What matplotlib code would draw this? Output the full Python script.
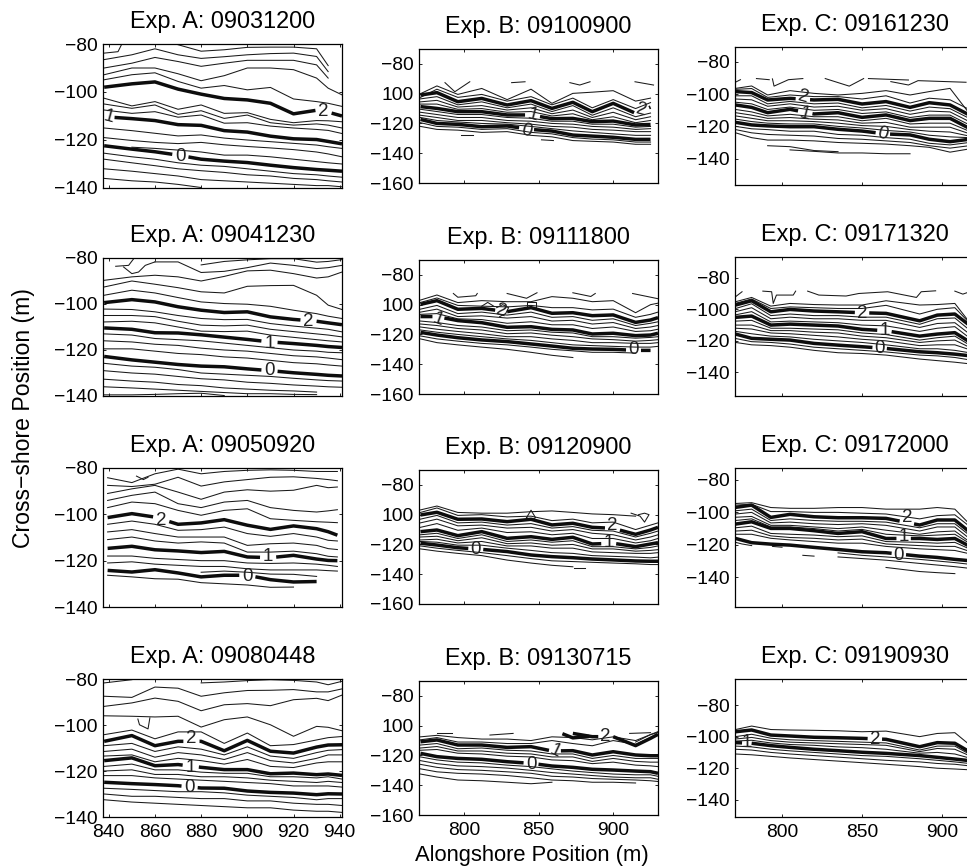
import numpy as np
import matplotlib
matplotlib.use("Agg")
import matplotlib.pyplot as plt

plt.rcParams['font.family'] = ['Liberation Sans', 'DejaVu Sans']
n = np.nan
W, H = 967, 868

# ---------- Exp. A ----------
A_x = [838, 850, 860, 870, 880, 890, 900, 910, 920, 930, 935, 941]
A3_x = [839.5, 850, 860, 870, 880, 890, 900, 910, 920, 930, 935, 939]

A1_thick = [
    [-98, -96.6, -95.8, -98.8, -100.9, -102.7, -103.3, -104.7, -109.1, -107.6, -108.4, -110],
    [-110.3, -111.1, -111.9, -113.6, -113.9, -116.1, -116.7, -118.4, -119.5, -119.8, -120.6, -121.6],
    [-122.4, -123.8, -124.9, -126.3, -128, -128.8, -129.4, -130.5, -131.5, -132.3, -132.6, -133],
]
A1_thin = [
    [n, n, n, -80.3, -83, -82.4, -81.4, -81.3, -81.3, -82, -89, n],
    [-86.5, -84.5, -82, -84.5, -86, -85.3, -84.5, -84, -83.8, -85.2, -91.5, n],
    [-90, -88, -85.6, -87.3, -89.3, -88, -86.8, -86.8, -86.8, -88.7, -94.2, n],
    [-92.8, -90, -90, -92.4, -95.3, -93.2, -90, -90, -90.7, -94.2, -98.4, -101.2],
    [-94.9, -92.8, -92, -95.6, -98.4, -97.3, -99.1, -98.1, -102.9, -104, -104.7, -106],
    [-102.6, -105.8, -104, -107.2, -105.4, -108.9, -108.6, -111.4, -112.8, -111.9, -112, -112.4],
    [-105, -106.8, -105.4, -109.3, -107.8, -111, -109.6, -112.8, -113.8, -113.3, -113.8, -115],
    [-107.5, -108.9, -108.2, -110.5, -109.6, -113, -112.8, -114.2, -115, -115.6, -116, -117.3],
    [-115, -116.1, -117.2, -118.3, -117.9, -119.2, -120, -120.7, -121.4, -122.1, -122.8, -123.5],
    [-119, -120.2, -121, -121.5, -121, -122, -122.7, -123.3, -124, -125, -125.8, -127],
    [n, -123, -123.5, -124.2, -125, -126.3, -126.3, -127, -128, -129, -129.5, -130],
    [-125.5, -127, -128, -129.5, -130.5, -131, -132, -133, -134, -134.5, -135, -135.5],
    [-128, -129.5, -130.7, -132, -132.8, -133.5, -134.5, -135, -136, -136.5, -137, -137.5],
    [-132, -133, -134, -135, -136.5, -137, -137.5, -138, -138.5, -139, -139, -139.5],
    [-136, -137, -137.5, -138.5, -139.8, n, n, n, n, n, n, n],
]
A1_extra = [([838, 844, 845.5], [-83.8, -83.2, -80.3])]
A1_labels = [('2', 933, -108.2, 0, 3.5), ('1', 840, -110.3, -15, 2.5), ('0', 871, -127, 0, 3.5)]

A2_thick = [
    [-99.4, -98.1, -99.1, -101.2, -102.7, -103.7, -103.4, -105.6, -106.7, -107.5, -108.2, -109],
    [-110.4, -111, -112.5, -112.6, -113.4, -114.4, -115.4, -116.5, -117.2, -118, -118.5, -118.9],
    [-122.8, -124.3, -125.3, -126.3, -127, -127.3, -128.2, -129, -129.9, -130.6, -131, -131.3],
]
A2_thin = [
    [n, n, n, n, -83, -81.5, -80.8, -80.3, -80.3, -81.8, -81.5, -80.7],
    [n, n, -81.7, -81.7, -86.3, -85.8, -84.2, -82.2, -83.2, -84.6, -84.2, -83.2],
    [-89.7, -88.2, -87.5, -88.2, -90, -88, -85.6, -85.3, -86.8, -88.7, -88.2, -86.1],
    [-92.6, -90, -91.4, -92.9, -94.7, -95.2, -92.3, -92, -91.9, -96.2, -100.5, -102.4],
    [-96.2, -94, -95.2, -97.2, -99.1, -99.8, -100.1, -101, -102.7, -104.2, -105.3, -106.3],
    [-102.2, -102.4, -103.4, -105, -106.3, -106.8, -106.7, -108.5, -109.6, -110.5, -111, -112.1],
    [-105, -105, -105.5, -107.5, -109.2, -109.5, -109.2, -111, -112, -113, -113.5, -114.3],
    [-107.8, -107.5, -108.2, -110, -111.8, -112, -111.8, -113.5, -114.5, -115.5, -116, -116.5],
    [-113, -113.5, -115, -115.5, -116, -117, -118, -119, -120, -120.5, -121, -121.2],
    [-116, -116.5, -117.5, -118, -119.2, -120, -120.5, -121.5, -122.5, -123, -123.5, -124.2],
    [-119.5, -119.5, -120.5, -121.5, -122, -123, -123.5, -124.5, -125.5, -126, -126.5, -127],
    [-125.8, -127, -127.5, -128.5, -130, -130.5, -131, -131.5, -132.3, -133, -133.3, -133.5],
    [-129, -130, -130.5, -131.5, -132.5, -133, -134, -134.5, -135.2, -135.7, -136, -136.2],
    [-132.7, -133.5, -134, -135, -135.5, -136.5, -137, -137.5, -137.8, -138.3, n, n],
    [-136, -136.5, -137, -137.5, -138, -138.5, -139, -139, -139.3, -139.4, n, n],
    [-139.5, -139.5, -139.3, -139, -138.8, -139.8, n, n, n, n, n, n],
]
A2_extra = [
    ([843, 848.6, 850.8], [-83.6, -83.2, -80.3]),
    ([846.4, 850, 852.9, 855.8, 860], [-83.9, -86.8, -86.1, -83.2, -81.7]),
]
A2_labels = [('2', 926.5, -107.5, 0, 3.5), ('1', 909.6, -117.1, 0, 3.5), ('0', 909.6, -129.1, 0, 3.5)]

A3_thick = [
    [-101.4, -99.7, -101.2, -104.3, -103.7, -102.3, -104.7, -106.5, -105, -106.2, -107.5, -109],
    [-114.7, -113.8, -115.3, -115.8, -116.5, -116, -118.4, -118.7, -117.7, -119.3, -119.9, -120],
    [-124.2, -124.9, -123.9, -125.3, -127, -126.3, -126.3, -128.2, -129.2, -129, n, n],
]
A3_thin = [
    [-84.2, -86.3, -82.5, -80.5, -82.5, -81.5, -81, -80.8, -81, -81.5, -81.5, -81.5],
    [-87.5, -88, -87, -84, -87.8, -86, -85, -84, -83.8, -84.5, -85, -85.5],
    [-91, -89, -87.5, -90.4, -93.5, -90.4, -89.4, -90, -89.6, -87.5, -88.5, -88.2],
    [-94, -91.8, -90.4, -95.4, -97.1, -94.7, -94, -97.1, -98.3, -99, -98.5, -98],
    [-97.1, -94.7, -95.4, -98.3, -100.4, -98.3, -97.6, -101.9, -102.6, -103.2, -103.4, -103.6],
    [-104.3, -102.9, -104.3, -106.9, -106.6, -105.5, -108.3, -109.5, -108.3, -109.8, -111.2, -111.5],
    [-107.6, -106.6, -108.3, -109.8, -109.8, -109.8, -113.4, -112.7, -112.4, -113.4, -114.8, -115.2],
    [-110.9, -109.8, -111.5, -112.4, -111.9, -112.4, -116.3, -116.3, -115.9, -117, -118.1, -118.4],
    [-118, -118, -119, -119.5, -120, -120, -121, -121.2, -121, -121.5, -122, -122.5],
    [-121, -120.5, -121.5, -122, -122.5, -122.5, -123.5, -124, -124, -124, -124.3, -124.5],
    [-126.3, -127, -127.8, -128, -129.5, -130, -130.5, -131.5, -131.4, n, n, n],
    [n, n, n, n, -125, -124.5, -125, -125.8, -125.9, -126.8, n, n],
]
A3_extra = [([852, 855, 857], [-83.5, -85, -84])]
A3_labels = [('2', 862.7, -102.6, 0, 3.5), ('1', 909, -118.4, 0, 3.5), ('0', 900, -126.8, 0, 3.5)]

A4_thick = [
    [-107.1, -104.6, -109, -107.1, -107.1, -111.2, -106.7, -111.4, -112.2, -109.6, -108.7, -108.6],
    [-115.5, -114.3, -117.7, -117.2, -118.4, -119.4, -119.4, -121.2, -120.9, -121.6, -121.3, -121.9],
    [-124.9, -125.5, -125.9, -126.4, -127.4, -127.5, -128.7, -129.3, -129.6, -130.3, -129.9, -130],
]
A4_thin = [
    [-81.7, -80.3, n, n, -81.7, -81.3, -80.7, -80.3, -80.6, -81.3, -82.5, -81],
    [-87.5, -88, -83.5, -84, -87.5, -86, -85, -84.9, -84.6, -85.6, -85.6, -84.3],
    [-91.9, -90.4, -88.3, -89.7, -93.8, -91.2, -90.7, -91.6, -89, -88.4, -89.4, -87],
    [-96, -96.2, -96.5, -96.2, -100.9, -97.7, -96.5, -99.9, -104.9, -100.6, -101, -102.5],
    [-104.2, -102.2, -106, -103, -103, -108, -103.5, -109, -108.5, -106.5, -105.5, -105],
    [-109, -108, -111.5, -109.5, -110.5, -113, -109.5, -113.5, -114.5, -112, -111, -110.7],
    [-111.5, -110.5, -114, -112, -113, -115, -112, -115.5, -116.5, -114.5, -113, -113],
    [-113.5, -113, -116, -114.5, -115.5, -117, -115, -118, -118.5, -116.5, -116, -116],
    [-118, -117, -119.5, -119.5, -120.5, -121, -121, -122.5, -122.5, -123, -122.5, -123.5],
    [-120, -119.5, -121.5, -121.5, -122.5, -122.5, -123, -124, -124.5, -125, -124.5, -125],
    [-122, -122, -123, -123.5, -124, -124.5, -125, -125.5, -126.5, -126.5, -126.5, -127],
    [-127.5, -128, -128.5, -129, -129, -129.5, -130.5, -131, -131.5, -132.5, -132, -132],
    [-130, -131, -131, -131.5, -132, -132, -133, -133, -134, -134.5, -134.5, -135],
    [-132.5, -133.5, -134, -134.5, -135, -135.5, -136, -136, -137, -137.5, -137.5, -138],
]
A4_extra = [([852.6, 853.3, 857, 857.8], [-97.4, -99.9, -101.7, -96.9])]
A4_labels = [('2', 875.8, -105.7, 0, 3.5), ('1', 875.5, -118.4, 0, 3.5), ('0', 875, -127, 0, 3.5)]

# ---------- Exp. B ----------
B_x = [771, 782, 796, 812, 829, 845, 859, 873, 886, 900, 915, 925, 930]

B1_thick = [
    [-100.9, -99.3, -105.4, -103.2, -107.6, -104.7, -109.9, -105.8, -112.1, -106.5, -113.2, -109, n],
    [-108.7, -109.9, -112.1, -112.1, -114.3, -114.3, -116.8, -116.6, -118.8, -118.4, -121, -120.7, n],
    [-117.3, -120, -120.6, -122.2, -121.7, -124, -125.1, -127.8, -128.5, -129.3, -130.7, -130.7, n],
]
B1_thin = [
    [-100, -94.8, -100.5, -96.5, -104, -97, -106.5, -99.8, -99, -98, -105, -103, n],
    [-102.5, -97, -102.5, -100.5, -105, -102, -107.5, -103, -109.5, -104, -110, -106, n],
    [-103.5, -102, -107.5, -105.5, -109.5, -107, -112, -108, -114.5, -109.5, -115.5, -113, n],
    [-105.5, -104.5, -109, -108, -111, -109.5, -113.5, -111, -116, -112.5, -117.5, -115.5, n],
    [-107, -107, -110.5, -110, -112.5, -112, -115, -113.5, -117.5, -115.5, -119.5, -118, n],
    [-110.5, -112, -114, -114, -116, -116.5, -118.5, -118.5, -120.5, -120.5, -122.5, -122, n],
    [-112.5, -114, -116, -116, -118, -118.5, -120, -120.5, -122, -122.5, -124, -123.5, n],
    [-114.5, -116, -118, -118, -119.5, -120.5, -122, -122.5, -124, -124.5, -125.5, -125.5, n],
    [-116, -118, -119, -120, -120.5, -122, -123.5, -125, -126, -127, -128, -128, n],
    [-119.5, -122, -122.5, -124, -123.5, -126, -127, -129.5, -130.5, -131, -132.5, -132.5, n],
    [-122, -124, -124.5, -126, -125.5, -128, -129, -131.5, -132, -132.5, -134, -134, n],
]
B1_extra = [
    ([787.4, 794, 804], [-92.6, -98.7, -92]),
    ([832, 841], [-92.6, -92]),
    ([871, 877.6, 884.5], [-92.6, -94.2, -92]),
    ([914.6, 927], [-92, -94.2]),
    ([798, 806], [-127.5, -127.5]),
    ([852, 860], [-131, -131.5]),
]
B1_labels = [('2', 919, -110.9, -15, 5), ('1', 846, -114.3, -15, 5), ('0', 842, -125.1, -15, 5)]

B2_thick = [
    [-99.8, -97.3, -103.1, -102.5, -104.7, -102, -105.8, -105.4, -107.4, -106.9, -111.9, -110.3, -108.7],
    [-108, -108, -110.7, -112.1, -115.2, -114.8, -116.6, -117, -119.7, -119.2, -120.8, -120.4, -119.2],
    [-118.6, -120.4, -122.2, -123.7, -124.8, -126.4, -127.8, -129.3, -129.8, -130, -130.7, -130.7, n],
]
B2_thin = [
    [-96.9, -93.5, -98.6, -97.3, -98, -98, -94.6, -95.7, -98, -97.3, -105.4, -100, -99],
    [-98.5, -95.5, -100.5, -101, -101.5, -100.5, -102, -102, -103.5, -103, -108.5, -106.5, -105],
    [-103, -100.5, -106, -105, -107, -105, -108.5, -108, -110.5, -109.5, -114, -112.5, -111.5],
    [-105, -103, -108, -107.5, -109, -108, -111, -110.5, -113, -112, -116, -115, -114],
    [-106.5, -106, -109.5, -110, -112.5, -111.5, -113.5, -113.5, -116, -115, -118, -117.5, -116.5],
    [-111, -112, -114, -115, -117.5, -117, -118.5, -119, -121.5, -121.5, -122.5, -122, -121.5],
    [-113, -114, -116, -117, -119.5, -119, -120.5, -121.5, -123, -123.5, -124.5, -124, -123.5],
    [-115, -116.5, -118, -119.5, -121.5, -121.5, -123, -124, -125.5, -125.5, -126, -126, -125.5],
    [-117, -118.5, -120, -121.5, -123, -124, -125.5, -127, -127.5, -128, -128.5, -128.5, -128],
    [-121, -123, -124.5, -126, -127, -128.5, -130, -131, -132, -132, -132.5, n, n],
    [-123, -125.5, -127, -128.5, -130, -132, -134, -135.5, n, n, n, n, n],
]
B2_extra = [
    ([793, 796, 808, 809], [-92.5, -95, -94, -92.5]),
    ([829, 842, 849], [-92.5, -95.7, -92]),
    ([873, 885, 888], [-92, -94.5, -92.5]),
    ([913, 930], [-92.5, -96]),
    ([812, 816, 820], [-101, -98.5, -101]),
    ([822, 826, 830, 828, 824], [-102, -100, -102, -106, -108]),
    ([842, 842, 848, 848, 842], [-102, -98, -98, -102, -102]),
]
B2_labels = [('2', 825, -104, -15, 4), ('1', 783, -110.3, -20, 4), ('0', 913.6, -130.4, 0, 5)]

B3_thick = [
    [-100.2, -98.4, -103.1, -102.9, -104.7, -103.1, -106.9, -105.8, -108.5, -109.2, -113.2, -110.3, -108.5],
    [-111.4, -110.3, -114.1, -111.4, -115.9, -114.8, -116.6, -115.2, -119.7, -119.2, -121.5, -119.7, -118.8],
    [-119.2, -120.4, -122.2, -123.3, -124.8, -127.1, -128.2, -128.9, -129.8, -130.4, -131.1, -131.3, -131.3],
]
B3_thin = [
    [-96.8, -94.2, -98.5, -99, -99, -98, -97.5, -98.5, -99.5, -100, -101, n, n],
    [-98.5, -95.5, -100.5, -100, -101.5, -101, -104, -103, -105.5, -105, -110, -107, -105.5],
    [-103, -100.5, -105.5, -105, -107, -106, -109, -108, -110.5, -111, -115, -112.5, -111],
    [-105.5, -103, -107.5, -107, -109, -108.5, -111, -110, -112.5, -113.5, -117, -115, -113.5],
    [-108.5, -106, -110.5, -109, -112, -111.5, -113.5, -112.5, -116, -116, -119, -117.5, -116],
    [-113.5, -112.5, -116, -113.5, -118, -117, -118.5, -117.5, -121.5, -121.5, -123, -122, -121],
    [-115, -114.5, -117.5, -115.5, -119.5, -119, -120.5, -120, -123, -123, -124.5, -124, -123.5],
    [-117, -116.5, -119, -118, -121, -121, -122.5, -122.5, -125, -125.5, -126, -126, -125.5],
    [-118, -118.5, -120.5, -120.5, -122.5, -124, -125.5, -126, -127.5, -128, -128.5, -129, -128.5],
    [-121, -122.5, -124, -125.5, -127.5, -129.5, -131, -131.5, -132, -132.5, -133, -133.5, -133.5],
    [-123, -124.5, -126, -127.5, -130.5, -132.5, -134, -135, n, n, n, n, n],
]
B3_extra = [
    ([912, 918, 921, 924, 921, 917], [-99, -101, -105, -100, -99, -100]),
    ([842, 845, 848, 845, 842], [-102, -97, -102, -104, -102]),
    ([874, 881], [-135.5, -135.5]),
]
B3_labels = [('2', 899.5, -107, 0, 5), ('1', 897, -119, 0, 5), ('0', 808, -123.3, 0, 5)]

B4_thick = [
    [n, n, n, n, n, n, n, -105.2, -107.4, -107.4, -113.4, -108.5, -105.8],
    [-110.8, -109.6, -113, -113, -114.6, -114.1, -117, -116.8, -119.7, -117.5, -119.7, -120.2, -120.2],
    [-118.6, -120.8, -122, -122.6, -124.2, -125.3, -127.1, -128, -129.3, -129.8, -130.5, -130.9, -132],
]
B4_thin = [
    [-107.5, -106.5, -108, -109, -109, -110, -107.5, -108, -109.5, -107.5, -110, -106, -104.5],
    [-109.5, -108, -111, -111, -112, -112, -110, -112, -113.5, -110, -112.5, -108, -106.5],
    [-113, -112, -115.5, -115, -116.5, -117, -119, -119, -122, -120, -122, -122, -122],
    [-115, -114, -117, -117, -118.5, -119, -121, -121, -124, -122, -124, -124.5, -124.5],
    [-116.5, -116, -118.5, -119, -120.5, -121, -123, -123.5, -125.5, -124.5, -126.5, -127, -127.5],
    [-121, -123, -124.5, -125, -126.5, -127.5, -129, -130.5, -131.5, -132.5, -133, -133, -134],
    [-123.5, -125.5, -127, -127.5, -128.5, -130, -131.5, -132.5, -133.5, -134.5, -135, -135, -136],
    [-126, -128, -129.5, -130, -131, -132, -134, -134.5, -135.5, -136, -136.5, -137, -137.5],
    [-129, -131, -132, -132.5, -133.5, -135, -136.5, -137, -138, -138, -138.5, n, n],
    [-132.5, -134.5, -136.5, -137, -138, -139, -138, n, n, n, n, n, n],
]
B4_extra = [
    ([782, 792], [-105, -105]),
    ([817.5, 833], [-106.3, -105.2]),
    ([911, 925], [-105.2, -104.7]),
    ([915, 925, 930], [-111, -106, -104]),
]
B4_stub_x = [866, 873, 884]
B4_stub_y = [-105.4, -108.2, -107.2]
B4_labels = [('2', 895, -107, 0, 5), ('1', 861, -117, -25, 4), ('0', 845, -125.8, 0, 5)]

# ---------- Exp. C ----------
C1_x = [771, 781, 791, 805, 820, 835, 850, 865, 880, 892, 905, 917]
C_x = [771, 781, 793, 805, 820, 835, 850, 865, 886, 897, 908, 917]

C1_thick = [
    [-98.4, -99, -103.6, -102.6, -103.6, -103.2, -106.1, -104.6, -108.2, -105.3, -106.7, -112.9],
    [-106.7, -108.2, -111.5, -109.4, -112.3, -111.5, -114.4, -112.9, -116.4, -115, -115, -121.2],
    [-117.5, -119.1, -119.7, -120.2, -120.2, -121.8, -122.9, -124.7, -125.3, -128, -129.5, -128],
]
C1_thin = [
    [-96.4, -94.9, -100.5, -97.8, -99.5, -100.5, -99.5, -97.8, -100.5, -98.4, -96.4, -111.9],
    [-97, -96.5, -102, -100.5, -101.5, -101.5, -103, -101, -105.5, -102.5, -103.5, -109.5],
    [-101, -101, -106, -104.5, -106, -105.5, -108.5, -107, -110.5, -108, -109, -115],
    [-103, -103.5, -107.5, -106, -108, -107.5, -110, -109, -112.5, -110.5, -111, -117],
    [-105, -106, -109.5, -108, -110, -109.5, -112, -111, -114.5, -113, -113, -119],
    [-109.5, -111, -113.5, -112.5, -114, -114, -116.5, -115, -118.5, -118, -118, -123],
    [-111.5, -113, -115, -114.5, -115.5, -116, -118, -117.5, -120.5, -120.5, -120.5, -124.5],
    [-113.5, -115, -116.5, -116.5, -117, -118, -119.5, -120, -122, -123, -123.5, -126],
    [-115.5, -117, -118, -118.5, -118.5, -120, -121, -122.5, -123.5, -125.5, -126.5, -127],
    [-120, -121.5, -122, -123, -123, -125, -125.5, -127, -128, -130.5, -131.5, -130],
    [-122, -124, -125, -125.5, -126, -127.5, -128, -129, -130, -132, -133.5, -132],
    [-124, -127, -128.5, -128.5, -129, -130, -130.5, -131, -132, -133, -136, -134],
    [n, n, -132, -132.6, -135, -135.7, n, n, n, n, n, n],
    [n, n, n, -134.6, -135.5, -136.5, -136.5, -137, -137, n, n, n],
]
C1_extra = [
    ([771, 774], [-92.5, -91]),
    ([784, 792], [-90.3, -91]),
    ([794, 795, 804, 813], [-90.5, -95, -91, -90.3]),
    ([827, 842, 851], [-90.3, -95, -90.3]),
    ([854, 879], [-90.3, -91.2]),
    ([868, 879, 885, 915], [-92.2, -94.3, -91.6, -92.6]),
]
C1_labels = [('2', 813, -102, -15, 4.5), ('1', 814.5, -112, -15, 4.5), ('0', 863, -124.7, -15, 4.5)]

C2_thick = [
    [-97.3, -94.6, -101.6, -100.1, -101.1, -101.6, -102.2, -102.6, -107.3, -103.7, -103, -110],
    [-105.1, -104.3, -110, -109.4, -110, -110.6, -112.7, -113.6, -117, -115.7, -114.8, -120.5],
    [-115.7, -118.4, -119, -119.5, -121.6, -122.7, -123.7, -124.8, -126.9, -127.5, -128.4, -129.4],
]
C2_thin = [
    [-95.2, -92.5, -98, -96.3, -97, -97.3, -97.3, -94.6, -97.3, -97, -96.3, -108],
    [-96.2, -93.5, -99.5, -98.5, -99, -99.5, -99.5, -97.5, -103, -100, -99, -108.5],
    [-99.5, -96.5, -104, -103, -104, -104, -105, -105, -109.5, -106, -105.5, -113],
    [-101.5, -99, -106, -105, -106, -106, -107, -107, -111.5, -109, -108.5, -115.5],
    [-103.5, -101.5, -108, -107.5, -108, -108.5, -110, -110.5, -114, -112, -111, -118],
    [-107.5, -107, -112, -112, -112.5, -113, -115, -116, -119.5, -118, -117, -122.5],
    [-110, -110, -113.5, -113.5, -114.5, -115, -117, -118, -121, -120, -119.5, -124],
    [-112, -112.5, -115, -115.5, -116.5, -117.5, -119, -120, -123, -122.5, -122.5, -125.5],
    [-114, -115.5, -117, -117.5, -119, -120, -121, -122.5, -125, -125, -126, -127.5],
    [-118.5, -120.5, -121, -122, -124, -125, -126, -127, -129, -129.5, -130.5, -132],
    [-121, -122.5, -123, -124, -126, -127.5, -128, -129, -131.5, -132.5, -133.5, -134.5],
]
C2_extra = [
    ([771, 775], [-92, -88.9]),
    ([788, 793.5, 794.5, 796.5, 807, 808.5], [-88.5, -88.9, -96.3, -91, -91, -88.5]),
    ([816, 823, 840, 848, 866, 884, 887, 896], [-88.5, -91, -91.6, -90, -88.9, -92.5, -88.9, -88.3]),
    ([908, 913, 915.6], [-88.5, -90.4, -89.5]),
]
C2_labels = [('2', 850, -102.6, 0, 4.5), ('1', 864, -113.6, 0, 4.5), ('0', 861, -124.8, 0, 4.5)]

C3_thick = [
    [-96.9, -95.5, -103.1, -101.2, -102.7, -103.3, -103.3, -103.7, -107.8, -104.7, -104.7, -111.9],
    [-107.2, -105.8, -109.9, -109.9, -111.3, -113, -111.9, -116.1, -116.1, -116.7, -116.1, -120.8],
    [-116.1, -118.7, -119.6, -120.2, -121.6, -122.9, -124.3, -124.9, -127, -127.8, -129, -129.8],
]
C3_thin = [
    [-94.5, -94, -97, -97.5, -97.5, -97, -97, -98, -98, -97, -98, -107],
    [-95.5, -95, -99.5, -99.5, -100, -100, -100.5, -101, -104, -102, -101.5, -108.5],
    [-99, -98, -105, -104, -105, -105.5, -105.5, -106, -109.5, -107, -107, -114],
    [-101, -100, -106.5, -106, -107, -107.5, -107, -108, -111.5, -109, -109, -116],
    [-103, -102.5, -108, -108, -109, -110, -109, -111, -113.5, -112, -111.5, -118],
    [-105, -104, -109, -109, -110, -111.5, -110.5, -113.5, -114.5, -114, -113.5, -119],
    [-109.5, -108.5, -113, -113.5, -114, -115, -114.5, -118, -118.5, -119, -118.5, -122.5],
    [-111.5, -111, -114.5, -115.5, -116, -117, -116.5, -119.5, -120.5, -121, -121, -124],
    [-113.5, -113.5, -116, -117, -118, -119, -119, -121, -122.5, -123, -123.5, -125.5],
    [n, n, n, n, n, -125, -126.5, -127.5, -129, -130, -131, -132],
    [n, n, n, n, n, -127.5, -128.5, -129.5, -131.5, -132.5, -133.5, -134.5],
    [n, n, n, n, n, n, n, -134, -136.5, -137.2, -137.8, n],
]
C3_extra = [
    ([771, 775, 781], [-118.5, -119.5, -120.5]),
    ([794, 800], [-121, -121.5]),
    ([813, 820], [-126.5, -127]),
]
C3_labels = [('2', 878, -103.3, 0, 4.5), ('1', 876, -114.6, 0, 4.5), ('0', 873, -126.4, 0, 4.5)]

C4_thick = [
    [-96.9, -95.8, -99, -99.6, -100.4, -100.7, -101.1, -101.7, -106.4, -103.8, -104.2, -109.5],
    [-103.8, -104.2, -105.7, -106.8, -108, -108.9, -109.9, -110.6, -112, -113.1, -114.2, -115.2],
]
C4_thin = [
    [-95.5, -93.3, -95.5, -95.8, -96, -96.3, -96.9, -96.5, -100, -98, -97.5, -105],
    [-100, -98.5, -101, -102, -102.5, -103, -103.5, -104, -108.5, -106, -106, -111],
    [-101.5, -100.5, -102.5, -103.5, -104, -104.5, -105, -105.5, -109.5, -107.5, -108, -112],
    [-102.8, -102.3, -104, -105, -105.5, -106.5, -107, -108, -110.5, -110, -111, -113.5],
    [-106, -106.5, -108, -109, -110, -111, -112, -112.5, -114, -115, -116, -117],
    [-108, -108.5, -110, -111, -112, -113, -114, -115, -116, -117, -117.5, -118.5],
    [-111, -111.5, -112.5, -113.5, -114.5, -115.5, -116.5, -117.5, -119, -120, -120.5, -121],
]
C4_labels = [('2', 858, -101.7, 0, 4.5), ('1', 778, -104, 0, 3)]

# ---------- axes limits and ticks ----------
A_xlim = (837.5, 941)
B_xlim = (770, 930)
C_xlim = (770.6, 920.6)
A_ylim = (-140, -80)
B_ylim = (-160, -70)
C_ylims = [(-156.4, -70.7), (-154.9, -66.9), (-158.4, -72.6), (-150.9, -63.5)]
A_xticks = [840, 860, 880, 900, 920, 940]
BC_xticks = [800, 850, 900]
A_yticks = [-140, -120, -100, -80]
A_ylabels = ['\u2212140', '\u2212120', '\u2212100', '\u221280']
B_yticks = [-160, -140, -120, -100, -80]
B_ylabels = ['\u2212160', '\u2212140', '\u2212120', '100', '\u221280']
C_yticks = [-140, -120, -100, -80]
C_ylabels = ['\u2212140', '\u2212120', '\u2212100', '\u221280']

A_titles = ['Exp. A: 09031200', 'Exp. A: 09041230', 'Exp. A: 09050920', 'Exp. A: 09080448']
B_titles = ['Exp. B: 09100900', 'Exp. B: 09111800', 'Exp. B: 09120900', 'Exp. B: 09130715']
C_titles = ['Exp. C: 09161230', 'Exp. C: 09171320', 'Exp. C: 09172000', 'Exp. C: 09190930']

# pixel boxes of the axes (left, top, right, bottom)
A_boxes = [(103, 44, 342, 188), (103, 258, 342, 396), (103, 468, 342, 607), (103, 679, 342, 817)]
B_boxes = [(419, 49, 658, 183), (419, 260, 658, 394), (419, 470, 658, 604), (419, 681, 658, 815)]
C_boxes = [(735, 47, 975, 185), (735, 257, 975, 396), (735, 468, 975, 607), (735, 679, 975, 817)]

fig = plt.figure(figsize=(W / 100, H / 100), dpi=100, facecolor='white')


def draw_thick(ax, x, y, labels):
    xs = np.array(x, float)
    ys = np.array(y, float)
    finite = np.isfinite(ys)
    for text, lx, ly, rot, half in labels:
        if not finite.any():
            continue
        yl = np.interp(lx, xs[finite], ys[finite])
        if abs(yl - ly) < 3.5:
            keep = (xs < lx - half) | (xs > lx + half)
            edges = [lx - half, lx, lx + half]
            yy = [np.interp(v, xs[finite], ys[finite]) for v in edges]
            yy[1] = np.nan
            xs2 = np.concatenate([xs[keep], edges])
            ys2 = np.concatenate([ys[keep], yy])
            order = np.argsort(xs2)
            xs, ys = xs2[order], ys2[order]
            finite = np.isfinite(ys)
    ax.plot(xs, ys, color='#0d0d0d', lw=2.5, solid_capstyle='butt', solid_joinstyle='round')


def panel(box, title, xlim, ylim, xticks, yticks, ylabels, x, thin, thick, extra, labels, showx):
    l, t, r, b = box
    ax = fig.add_axes([l / W, 1 - b / H, (r - l) / W, (b - t) / H])
    for y in thin:
        ax.plot(x, y, color='#1a1a1a', lw=0.75, solid_joinstyle='round')
    for ex, ey in extra:
        ax.plot(ex, ey, color='#1a1a1a', lw=0.75, solid_joinstyle='round')
    for y in thick:
        draw_thick(ax, x, y, labels)
    for text, lx, ly, rot, half in labels:
        ax.text(lx, ly, text, fontsize=13.5, rotation=rot, ha='center', va='center', color='#222222')
    ax.set_xlim(*xlim)
    ax.set_ylim(*ylim)
    ax.set_xticks(xticks)
    ax.set_yticks(yticks)
    ax.set_yticklabels(ylabels)
    if not showx:
        ax.set_xticklabels([])
    ax.tick_params(direction='in', length=2.5, width=0.6, top=True, right=True,
                   labelsize=13.9, pad=4)
    ax.tick_params(axis='x', pad=5)
    for s in ax.spines.values():
        s.set_linewidth(0.9)
    ax.set_title(title, fontsize=16.9, pad=11.5)
    return ax


A_data = [
    (A_x, A1_thin, A1_thick, A1_extra, A1_labels),
    (A_x, A2_thin, A2_thick, A2_extra, A2_labels),
    (A3_x, A3_thin, A3_thick, A3_extra, A3_labels),
    (A_x, A4_thin, A4_thick, A4_extra, A4_labels),
]
B_data = [
    (B_x, B1_thin, B1_thick, B1_extra, B1_labels),
    (B_x, B2_thin, B2_thick, B2_extra, B2_labels),
    (B_x, B3_thin, B3_thick, B3_extra, B3_labels),
    (B_x, B4_thin, B4_thick, B4_extra, B4_labels),
]
C_data = [
    (C1_x, C1_thin, C1_thick, C1_extra, C1_labels),
    (C_x, C2_thin, C2_thick, C2_extra, C2_labels),
    (C_x, C3_thin, C3_thick, C3_extra, C3_labels),
    (C_x, C4_thin, C4_thick, [], C4_labels),
]

for i in range(4):
    show = i == 3
    panel(A_boxes[i], A_titles[i], A_xlim, A_ylim, A_xticks, A_yticks, A_ylabels, *A_data[i], show)
    axb = panel(B_boxes[i], B_titles[i], B_xlim, B_ylim, BC_xticks, B_yticks, B_ylabels, *B_data[i], show)
    if i == 3:
        axb.plot(B4_stub_x, B4_stub_y, color='#0d0d0d', lw=2.5, solid_capstyle='butt')
    panel(C_boxes[i], C_titles[i], C_xlim, C_ylims[i], BC_xticks, C_yticks, C_ylabels, *C_data[i], show)

fig.text(24 / W, 1 - 418 / H, 'Cross\u2212shore Position (m)', rotation=90, fontsize=16.6,
         ha='center', va='center')
fig.text(532 / W, 1 - 856 / H, 'Alongshore Position (m)', fontsize=15.8, ha='center', va='center')

fig.savefig('out.png', dpi=100)
